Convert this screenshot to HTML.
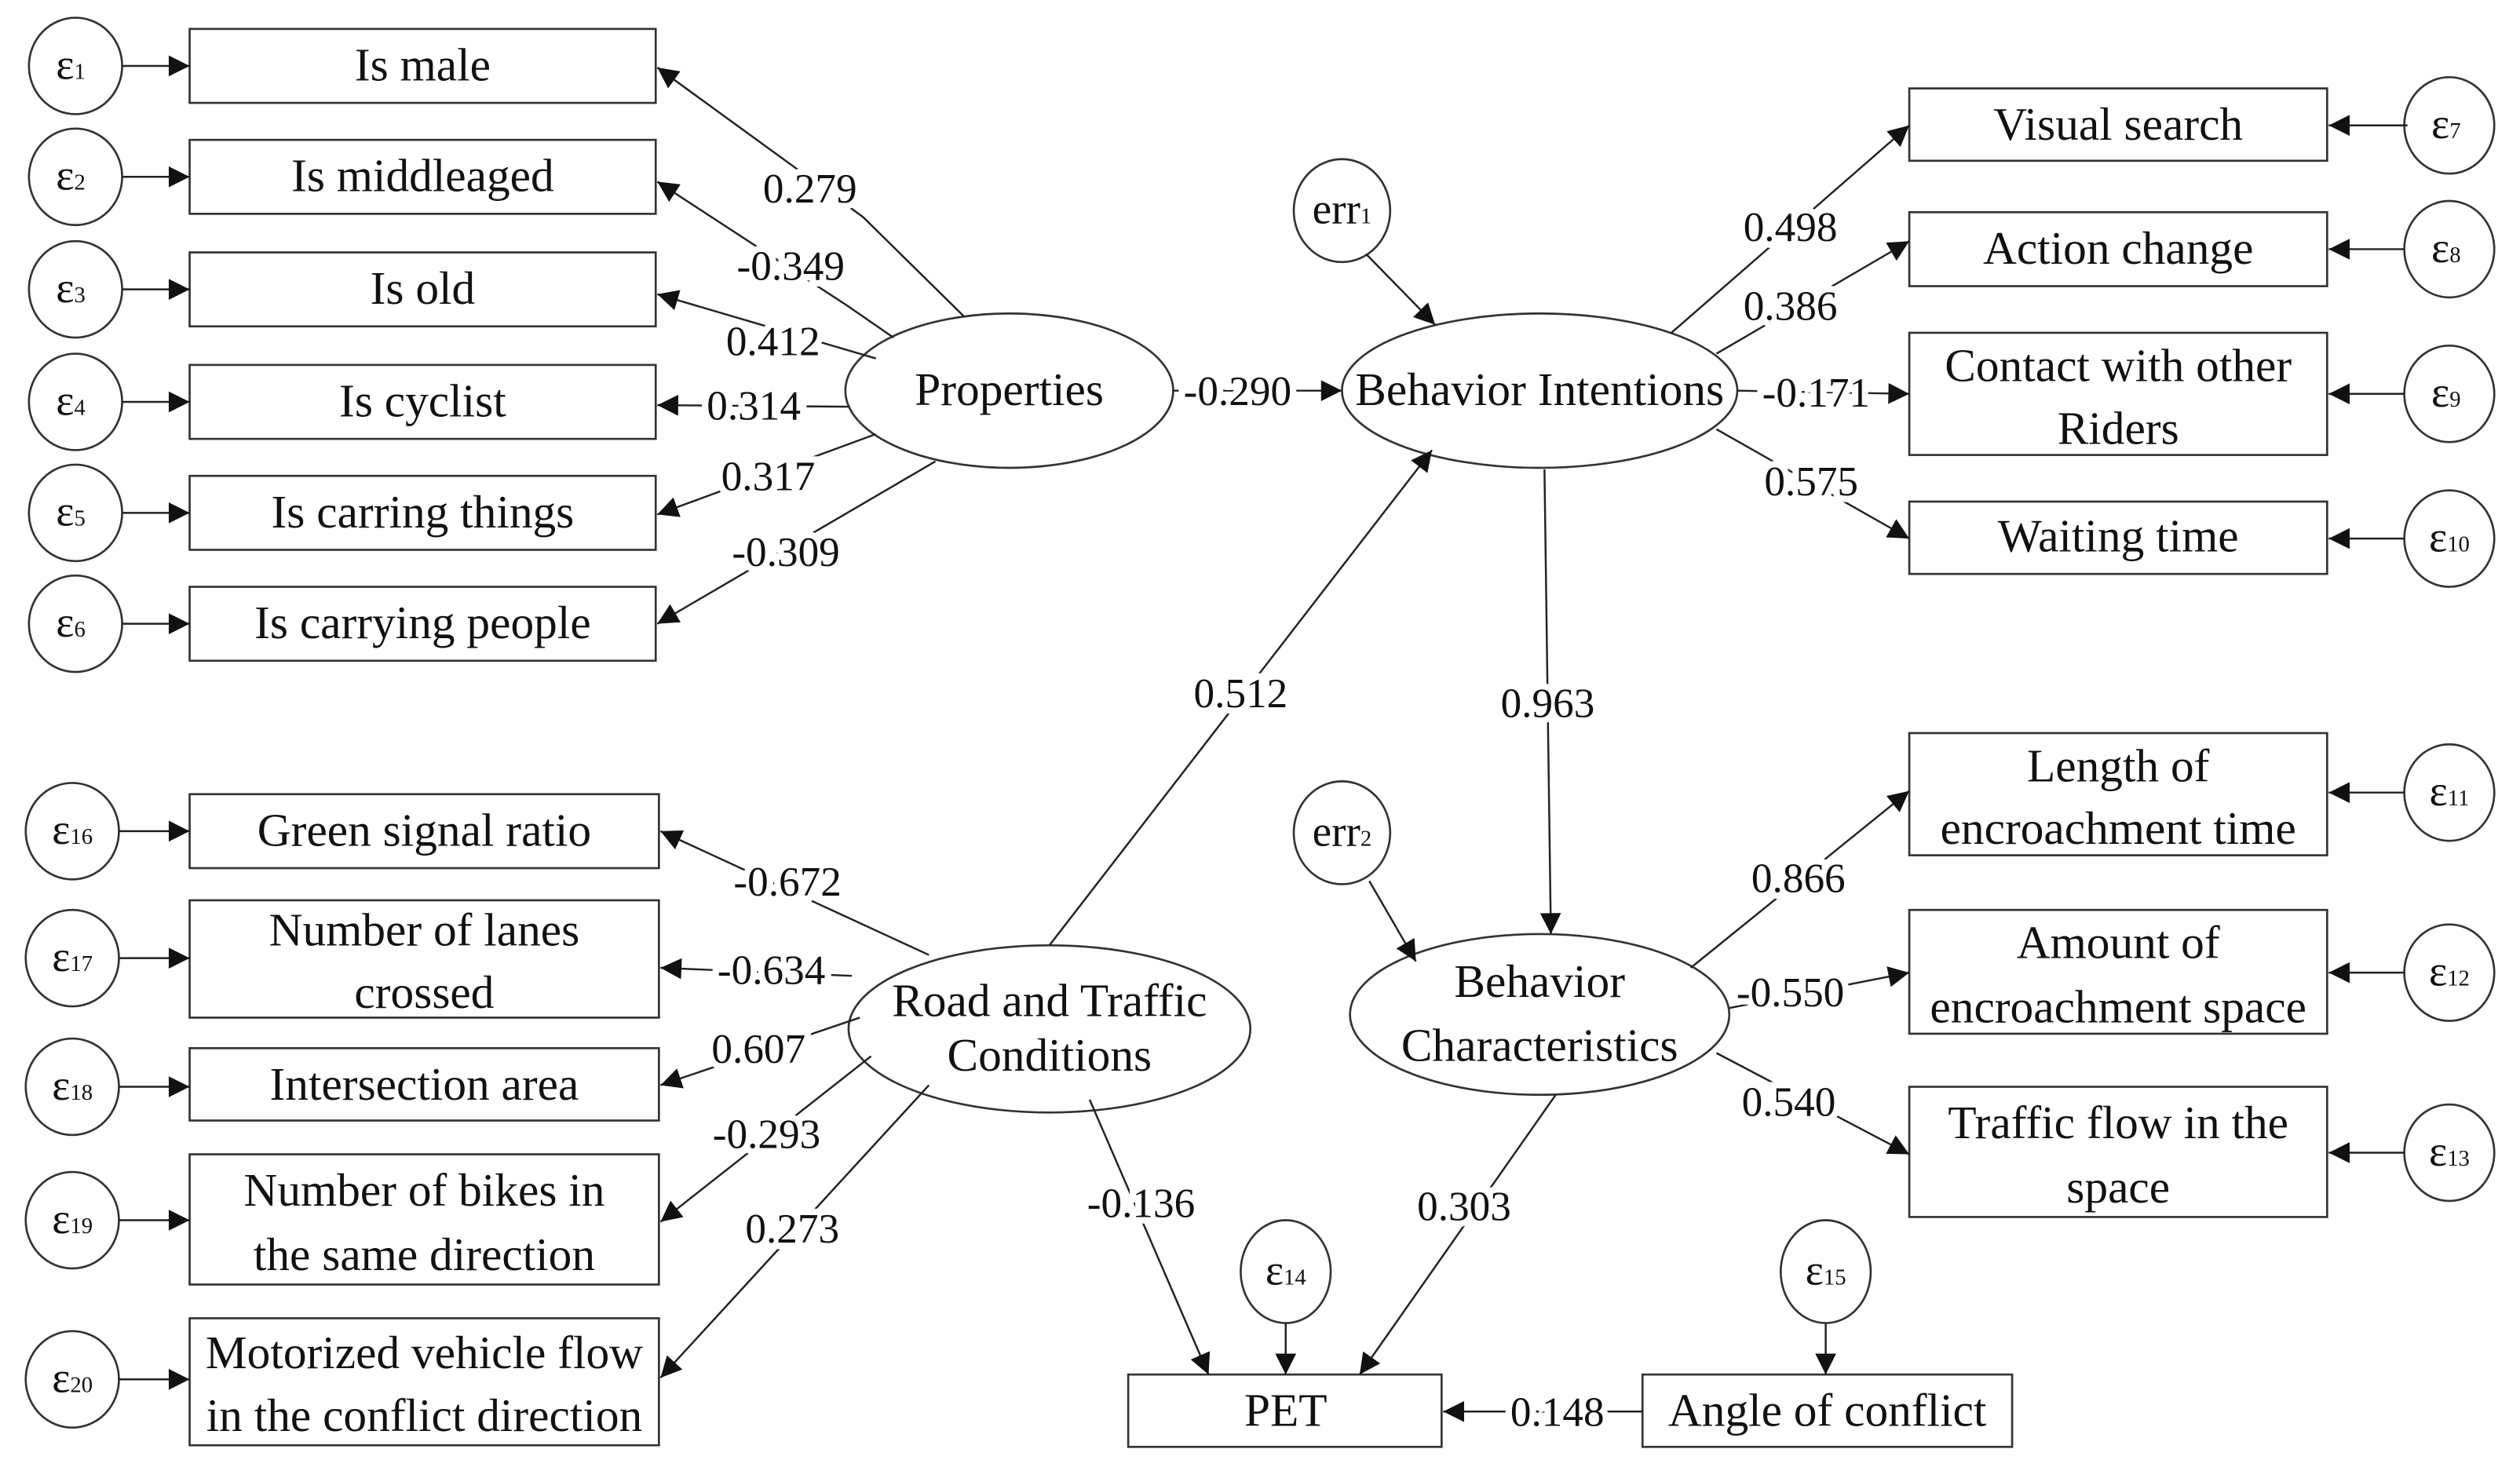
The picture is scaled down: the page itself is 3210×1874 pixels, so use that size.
<!DOCTYPE html>
<html><head><meta charset="utf-8"><style>
html,body{margin:0;padding:0;background:#fff;}
svg{display:block;}
text{font-family:"Liberation Serif",serif;}
</style></head><body>
<svg width="3210" height="1874" viewBox="0 0 1568 915" preserveAspectRatio="none" xmlns="http://www.w3.org/2000/svg">
<defs>
<marker id="a" viewBox="0 0 10 10" refX="10" refY="5" markerWidth="18" markerHeight="13" markerUnits="userSpaceOnUse" orient="auto"><path d="M0,0L10,5L0,10z" fill="#111"/></marker>
</defs>
<g stroke="#333" stroke-width="1.3" fill="none">
<ellipse cx="47" cy="41" rx="29" ry="30"/><ellipse cx="47" cy="110" rx="29" ry="30"/><ellipse cx="47" cy="180" rx="29" ry="30"/>
<ellipse cx="47" cy="250" rx="29" ry="30"/><ellipse cx="47" cy="319" rx="29" ry="30"/><ellipse cx="47" cy="388" rx="29" ry="30"/>
<rect x="118" y="18" width="290" height="46"/><rect x="118" y="87" width="290" height="46"/><rect x="118" y="157" width="290" height="46"/>
<rect x="118" y="227" width="290" height="46"/><rect x="118" y="296" width="290" height="46"/><rect x="118" y="365" width="290" height="46"/>
<ellipse cx="628" cy="243" rx="102" ry="48"/>
<ellipse cx="958" cy="243" rx="123" ry="48"/>
<ellipse cx="835" cy="131" rx="30" ry="32"/>
<rect x="1188" y="55" width="260" height="45"/><rect x="1188" y="132" width="260" height="46"/>
<rect x="1188" y="207" width="260" height="76"/><rect x="1188" y="312" width="260" height="45"/>
<ellipse cx="1524" cy="78" rx="28" ry="30"/><ellipse cx="1524" cy="155" rx="28" ry="30"/>
<ellipse cx="1524" cy="245" rx="28" ry="30"/><ellipse cx="1524" cy="335" rx="28" ry="30"/>
<rect x="1188" y="456" width="260" height="76"/><rect x="1188" y="566" width="260" height="77"/><rect x="1188" y="676" width="260" height="81"/>
<ellipse cx="1524" cy="493" rx="28" ry="30"/><ellipse cx="1524" cy="605" rx="28" ry="30"/><ellipse cx="1524" cy="717" rx="28" ry="30"/>
<ellipse cx="958" cy="631" rx="118" ry="50"/>
<ellipse cx="835" cy="518" rx="30" ry="32"/>
<ellipse cx="653" cy="640" rx="125" ry="52"/>
<rect x="118" y="494" width="292" height="46"/><rect x="118" y="560" width="292" height="73"/><rect x="118" y="652" width="292" height="45"/>
<rect x="118" y="718" width="292" height="81"/><rect x="118" y="820" width="292" height="79"/>
<ellipse cx="45" cy="517" rx="29" ry="30"/><ellipse cx="45" cy="596" rx="29" ry="30"/><ellipse cx="45" cy="676" rx="29" ry="30"/>
<ellipse cx="45" cy="759" rx="29" ry="30"/><ellipse cx="45" cy="858" rx="29" ry="30"/>
<rect x="702" y="855" width="195" height="45"/><rect x="1022" y="855" width="230" height="45"/>
<ellipse cx="800" cy="791" rx="28" ry="32"/><ellipse cx="1136" cy="791" rx="28" ry="32"/>
</g>
<g stroke="#222" stroke-width="1.2" fill="none" marker-end="url(#a)">
<line x1="76" y1="41" x2="118" y2="41"/><line x1="76" y1="110" x2="118" y2="110"/><line x1="76" y1="180" x2="118" y2="180"/>
<line x1="76" y1="250" x2="118" y2="250"/><line x1="76" y1="319" x2="118" y2="319"/><line x1="76" y1="388" x2="118" y2="388"/>
<polyline points="600,197 537,135 409,42"/>
<polyline points="556,210 527,190 409,113"/>
<polyline points="545,223 409,183"/>
<polyline points="528,253 409,252"/>
<polyline points="545,270 409,320"/>
<polyline points="582,287 409,388"/>
<line x1="730" y1="243" x2="835" y2="243"/>
<line x1="850" y1="158" x2="893" y2="202"/>
<line x1="1040" y1="207" x2="1188" y2="78"/>
<line x1="1068" y1="220" x2="1188" y2="150"/>
<line x1="1081" y1="243" x2="1188" y2="245"/>
<line x1="1068" y1="267" x2="1188" y2="335"/>
<line x1="1498" y1="78" x2="1449" y2="78"/><line x1="1496" y1="155" x2="1449" y2="155"/><line x1="1496" y1="245" x2="1449" y2="245"/><line x1="1496" y1="335" x2="1449" y2="335"/>
<line x1="1496" y1="493" x2="1449" y2="493"/><line x1="1496" y1="605" x2="1449" y2="605"/><line x1="1496" y1="717" x2="1449" y2="717"/>
<line x1="961" y1="292" x2="965" y2="581"/>
<line x1="852" y1="548" x2="881" y2="598"/>
<line x1="1052" y1="602" x2="1188" y2="492"/>
<line x1="1076" y1="627" x2="1188" y2="605"/>
<line x1="1068" y1="655" x2="1188" y2="718"/>
<line x1="653" y1="588" x2="891" y2="280"/>
<line x1="74" y1="517" x2="118" y2="517"/><line x1="74" y1="596" x2="118" y2="596"/><line x1="74" y1="676" x2="118" y2="676"/>
<line x1="74" y1="759" x2="118" y2="759"/><line x1="74" y1="858" x2="118" y2="858"/>
<line x1="578" y1="594" x2="411" y2="517"/>
<line x1="530" y1="607" x2="411" y2="602"/>
<line x1="535" y1="633" x2="411" y2="675"/>
<line x1="542" y1="657" x2="411" y2="760"/>
<line x1="578" y1="675" x2="411" y2="857"/>
<line x1="678" y1="684" x2="752" y2="855"/>
<line x1="968" y1="681" x2="846" y2="855"/>
<line x1="800" y1="823" x2="800" y2="855"/>
<line x1="1136" y1="823" x2="1136" y2="855"/>
<line x1="1022" y1="878" x2="898" y2="878"/>
</g>
<g font-size="29" text-anchor="middle" fill="#111">
<text x="263" y="50">Is male</text><text x="263" y="119">Is middleaged</text><text x="263" y="189">Is old</text>
<text x="263" y="259">Is cyclist</text><text x="263" y="328">Is carring things</text><text x="263" y="397">Is carrying people</text>
<text x="628" y="252">Properties</text>
<text x="958" y="252">Behavior Intentions</text>
<text x="1318" y="87">Visual search</text><text x="1318" y="164">Action change</text>
<text x="1318" y="237">Contact with other</text><text x="1318" y="276">Riders</text>
<text x="1318" y="343">Waiting time</text>
<text x="1318" y="486">Length of</text><text x="1318" y="525">encroachment time</text>
<text x="1318" y="596">Amount of</text><text x="1318" y="636">encroachment space</text>
<text x="1318" y="708">Traffic flow in the</text><text x="1318" y="748">space</text>
<text x="958" y="620">Behavior</text><text x="958" y="660">Characteristics</text>
<text x="653" y="632">Road and Traffic</text><text x="653" y="666">Conditions</text>
<text x="264" y="526">Green signal ratio</text>
<text x="264" y="588">Number of lanes</text><text x="264" y="627">crossed</text>
<text x="264" y="684">Intersection area</text>
<text x="264" y="750">Number of bikes in</text><text x="264" y="790">the same direction</text>
<text x="264" y="851">Motorized vehicle flow</text><text x="264" y="890">in the conflict direction</text>
<text x="800" y="887">PET</text><text x="1137" y="887">Angle of conflict</text>
</g>
<g id="lbl" font-size="26" text-anchor="middle" fill="#fff" stroke="#fff" stroke-width="8">
<text x="504" y="126">0.279</text><text x="492" y="174">-0.349</text><text x="481" y="221">0.412</text>
<text x="469" y="261">0.314</text><text x="478" y="305">0.317</text><text x="489" y="352">-0.309</text>
<text x="770" y="252">-0.290</text>
<text x="1114" y="150">0.498</text><text x="1114" y="199">0.386</text><text x="1130" y="253">-0.171</text><text x="1127" y="308">0.575</text>
<text x="772" y="440">0.512</text><text x="963" y="446">0.963</text>
<text x="1119" y="555">0.866</text><text x="1114" y="626">-0.550</text><text x="1113" y="694">0.540</text>
<text x="490" y="557">-0.672</text><text x="480" y="612">-0.634</text><text x="472" y="661">0.607</text>
<text x="477" y="714">-0.293</text><text x="493" y="773">0.273</text>
<text x="710" y="757">-0.136</text><text x="911" y="759">0.303</text>
<text x="969" y="887">0.148</text>
</g>
<g font-size="26" text-anchor="middle" fill="#111">
<text x="504" y="126">0.279</text><text x="492" y="174">-0.349</text><text x="481" y="221">0.412</text>
<text x="469" y="261">0.314</text><text x="478" y="305">0.317</text><text x="489" y="352">-0.309</text>
<text x="770" y="252">-0.290</text>
<text x="1114" y="150">0.498</text><text x="1114" y="199">0.386</text><text x="1130" y="253">-0.171</text><text x="1127" y="308">0.575</text>
<text x="772" y="440">0.512</text><text x="963" y="446">0.963</text>
<text x="1119" y="555">0.866</text><text x="1114" y="626">-0.550</text><text x="1113" y="694">0.540</text>
<text x="490" y="557">-0.672</text><text x="480" y="612">-0.634</text><text x="472" y="661">0.607</text>
<text x="477" y="714">-0.293</text><text x="493" y="773">0.273</text>
<text x="710" y="757">-0.136</text><text x="911" y="759">0.303</text>
<text x="969" y="887">0.148</text>
</g>
<g font-size="27" text-anchor="middle" fill="#111">
<text x="44" y="49">ε<tspan font-size="14">1</tspan></text><text x="44" y="118">ε<tspan font-size="14">2</tspan></text>
<text x="44" y="188">ε<tspan font-size="14">3</tspan></text><text x="44" y="258">ε<tspan font-size="14">4</tspan></text>
<text x="44" y="327">ε<tspan font-size="14">5</tspan></text><text x="44" y="396">ε<tspan font-size="14">6</tspan></text>
<text x="1522" y="86">ε<tspan font-size="14">7</tspan></text><text x="1522" y="163">ε<tspan font-size="14">8</tspan></text>
<text x="1522" y="253">ε<tspan font-size="14">9</tspan></text><text x="1524" y="343">ε<tspan font-size="14">10</tspan></text>
<text x="1524" y="501">ε<tspan font-size="14">11</tspan></text><text x="1524" y="613">ε<tspan font-size="14">12</tspan></text>
<text x="1524" y="725">ε<tspan font-size="14">13</tspan></text>
<text x="45" y="525">ε<tspan font-size="14">16</tspan></text><text x="45" y="604">ε<tspan font-size="14">17</tspan></text>
<text x="45" y="684">ε<tspan font-size="14">18</tspan></text><text x="45" y="767">ε<tspan font-size="14">19</tspan></text>
<text x="45" y="866">ε<tspan font-size="14">20</tspan></text>
<text x="800" y="799">ε<tspan font-size="14">14</tspan></text><text x="1136" y="799">ε<tspan font-size="14">15</tspan></text>
<text x="835" y="139">err<tspan font-size="14">1</tspan></text><text x="835" y="526">err<tspan font-size="14">2</tspan></text>
</g>
</svg>
</body></html>
